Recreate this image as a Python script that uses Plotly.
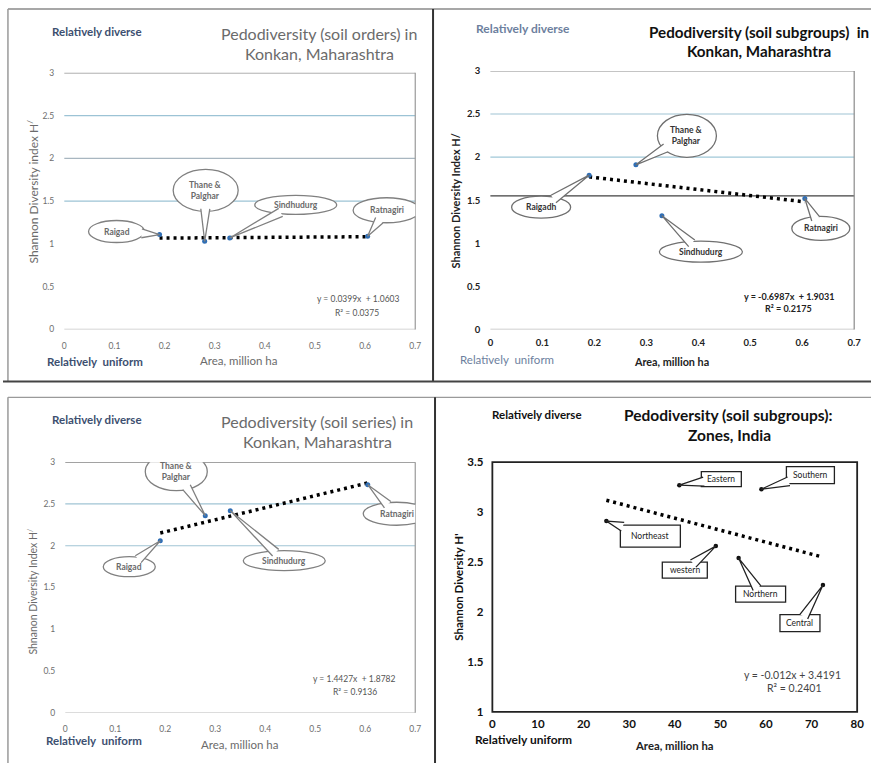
import math
import plotly.graph_objects as go

FONT = "Lato, 'Open Sans', sans-serif"
W, H = 878, 769

# ---------------- data ----------------
konkan_regions = ["Raigad", "Thane &<br>Palghar", "Sindhudurg", "Ratnagiri"]
konkan_regions_sub = ["Raigadh", "Thane &<br>Palghar", "Sindhudurg", "Ratnagiri"]
konkan_area = [0.19, 0.28, 0.33, 0.605]
h_orders = [1.11, 1.03, 1.07, 1.09]
h_subgroups = [1.79, 1.91, 1.32, 1.52]
h_series = [2.06, 2.36, 2.42, 2.73]

zones = ["Northeast", "Eastern", "western", "Northern", "Southern", "Central"]
zone_area = [25, 41, 49, 54, 59, 72.5]
zone_h = [2.91, 3.27, 2.66, 2.54, 3.23, 2.27]

# trend: slope, intercept, R2
trend_orders = (0.0399, 1.0603, "0.0375")
trend_subgroups = (-0.6987, 1.9031, "0.2175")
trend_series = (1.4427, 1.8782, "0.9136")
trend_zones = (-0.012, 3.4191, "0.2401")

konkan_xticks = [0, 0.1, 0.2, 0.3, 0.4, 0.5, 0.6, 0.7]
konkan_yticks = [0, 0.5, 1, 1.5, 2, 2.5, 3]
zone_xticks = [0, 10, 20, 30, 40, 50, 60, 70, 80]
zone_yticks = [1, 1.5, 2, 2.5, 3, 3.5]

# ---------------- layout helpers (pixels) ----------------
def px(x):
    return x / W

def py(y):
    return 1 - y / H

# callout geometry: (dx, dy-up, width, height) in pixels relative to point
callouts_p1 = [(-43, 3, 56, 22), (1, 51, 65, 42), (66, 33, 82, 19), (19, 26, 67, 25)]
callouts_p2 = [(-48, -32, 59, 22), (51, 29, 59, 43), (39, -36, 83, 21), (16, -30, 58, 24)]
callouts_p3 = [(-31, -26, 52, 20), (-29, 44, 62, 38), (54, -50, 82, 20), (29, -29, 67, 23)]
callouts_p4 = [(44, -15, 60, 22), (42, 6, 40, 15), (-31, -24, 45, 16),
               (22, -36, 50, 16), (49, 14, 48, 17), (-23, -38, 40, 17)]

fig = go.Figure()
shapes = []
anns = []


def callout(xr, yr, x, y, label, geo, kind, lcolor, fcolor, fsize, bold):
    dx, dy, w, h = geo
    a, b = w / 2, h / 2
    vx, vy = -dx, -dy
    L = math.hypot(vx, vy)
    ux, uy = vx / L, vy / L
    if kind == "ellipse":
        t = 1 / math.sqrt((ux / a) ** 2 + (uy / b) ** 2)
    else:
        t = min(a / abs(ux) if ux else 1e9, b / abs(uy) if uy else 1e9)
    bx, by = dx + ux * (t - 2.5), dy + uy * (t - 2.5)
    nx, ny = -uy, ux
    hw = 4.5
    p1 = (bx + nx * hw, by + ny * hw)
    p2 = (bx - nx * hw, by - ny * hw)
    common = dict(xref=xr, yref=yr, xsizemode="pixel", ysizemode="pixel",
                  xanchor=x, yanchor=y, layer="above")
    shapes.append(dict(type="circle" if kind == "ellipse" else "rect",
                       x0=dx - a, x1=dx + a, y0=dy - b, y1=dy + b,
                       line=dict(color=lcolor, width=1.3), fillcolor="white", **common))
    shapes.append(dict(type="path",
                       path=f"M{p1[0]:.2f},{p1[1]:.2f} L0,0 L{p2[0]:.2f},{p2[1]:.2f}",
                       line=dict(color=lcolor, width=1.3), fillcolor="white", **common))
    anns.append(dict(xref=xr, yref=yr, x=x, y=y, xshift=dx, yshift=dy,
                     text=label, showarrow=False,
                     font=dict(family=FONT, size=fsize, color=fcolor,
                               weight="bold" if bold else "normal")))


def text(x, y, s, size, color, bold=False, angle=0):
    anns.append(dict(xref="paper", yref="paper", x=px(x), y=py(y), text=s,
                     showarrow=False, xanchor="center", yanchor="middle",
                     textangle=angle,
                     font=dict(family=FONT, size=size, color=color,
                               weight="bold" if bold else "normal")))


panels = [
    dict(ax="", xd=(62, 417), yd=(67, 328), xr=(0, 0.7), yr=(0, 3),
         xv=konkan_area, yv=h_orders, labels=konkan_regions, trend=trend_orders,
         geo=callouts_p1, kind="ellipse", mcol="#2f6eb5", msize=5,
         tick=dict(size=8.5, color="#6e6e6e", bold=False),
         xticks=konkan_xticks, yticks=konkan_yticks,
         hlines=[(3, "#8c8c8c"), (2.5, "#9cc3d5"), (2, "#a8b6c0"), (1.5, "#9cc3d5"), (0, "#c8c8c8")],
         box=False, vcolor="#9a9a9a", lab=dict(col="#6a6a6a", size=8.5, bold=True),
         lcol="#808080", xstand=10, ystand=9),
    dict(ax="2", xd=(493, 861), yd=(65, 328), xr=(0, 0.7), yr=(0, 3),
         xv=konkan_area, yv=h_subgroups, labels=konkan_regions_sub, trend=trend_subgroups,
         geo=callouts_p2, kind="ellipse", mcol="#2f6eb5", msize=5,
         tick=dict(size=9.5, color="#222222", bold=True),
         xticks=konkan_xticks, yticks=konkan_yticks,
         hlines=[(3, "#8a8a8a"), (2.5, "#a0c4d4"), (2, "#a0c8d8"), (1.55, "#404040"), (0, "#c0c0c0")],
         box=False, vcolor="#8a8a8a", lab=dict(col="#333333", size=8.5, bold=True),
         lcol="#707070", xstand=6, ystand=9),
    dict(ax="3", xd=(63, 417), yd=(463, 718), xr=(0, 0.7), yr=(0, 3),
         xv=konkan_area, yv=h_series, labels=konkan_regions, trend=trend_series,
         geo=callouts_p3, kind="ellipse", mcol="#2f6eb5", msize=5,
         tick=dict(size=8.5, color="#6e6e6e", bold=False),
         xticks=konkan_xticks, yticks=konkan_yticks,
         hlines=[(3, "#5a5a5a"), (2.5, "#a0c4d4"), (2, "#a0c4d4"), (0, "#c0c0c0")],
         box=False, vcolor="#9a9a9a", lab=dict(col="#6a6a6a", size=8.5, bold=True),
         lcol="#808080", xstand=10, ystand=9),
    dict(ax="4", xd=(495, 864), yd=(463, 717), xr=(0, 80), yr=(1, 3.5),
         xv=zone_area, yv=zone_h, labels=zones, trend=trend_zones,
         geo=callouts_p4, kind="rect", mcol="#111111", msize=4.5,
         tick=dict(size=11.5, color="#111111", bold=True),
         xticks=zone_xticks, yticks=zone_yticks,
         hlines=[], box=True, vcolor="#222222", lab=dict(col="#222222", size=8.5, bold=False),
         lcol="#222222", xstand=4, ystand=8),
]

for p in panels:
    a = p["ax"]
    xname, yname = "x" + a, "y" + a
    xref = xname
    yref = yname
    xkey = "xaxis" + a
    ykey = "yaxis" + a
    tf = dict(family=FONT, size=p["tick"]["size"], color=p["tick"]["color"],
              weight="bold" if p["tick"]["bold"] else "normal")
    fig.update_layout(**{
        xkey: dict(domain=[px(p["xd"][0]), px(p["xd"][1])], range=list(p["xr"]),
                   anchor=yname, tickvals=p["xticks"], showgrid=False, zeroline=False,
                   showline=False, ticks="", tickfont=tf, ticklabelstandoff=p["xstand"],
                   fixedrange=True),
        ykey: dict(domain=[py(p["yd"][1]), py(p["yd"][0])], range=list(p["yr"]),
                   anchor=xname, tickvals=p["yticks"], showgrid=False, zeroline=False,
                   showline=False, ticks="", tickfont=tf, ticklabelstandoff=p["ystand"],
                   fixedrange=True),
    })
    for v, c in p["hlines"]:
        shapes.append(dict(type="line", xref=xref + " domain", yref=yref,
                           x0=0, x1=1, y0=v, y1=v, line=dict(color=c, width=1.2), layer="below"))
    if p["box"]:
        shapes.append(dict(type="rect", xref=xref + " domain", yref=yref + " domain",
                           x0=0, x1=1, y0=0, y1=1, line=dict(color=p["vcolor"], width=1.8),
                           layer="below"))
    else:
        shapes.append(dict(type="line", xref=xref + " domain", yref=yref + " domain",
                           x0=1, x1=1, y0=0, y1=1, line=dict(color=p["vcolor"], width=1.2),
                           layer="below"))
    m, c0, _ = p["trend"]
    tx = [min(p["xv"]), max(p["xv"])]
    fig.add_trace(go.Scatter(x=tx, y=[m * v + c0 for v in tx], mode="lines",
                             line=dict(color="black", width=3.5, dash="3px,4px"),
                             xaxis=xname, yaxis=yname, showlegend=False, hoverinfo="skip"))
    fig.add_trace(go.Scatter(x=p["xv"], y=p["yv"], mode="markers",
                             marker=dict(color=p["mcol"], size=p["msize"]),
                             xaxis=xname, yaxis=yname, showlegend=False))
    for xv, yv, lab, geo in zip(p["xv"], p["yv"], p["labels"], p["geo"]):
        callout(xref, yref, xv, yv, lab, geo, p["kind"], p["lcol"],
                p["lab"]["col"], p["lab"]["size"], p["lab"]["bold"])

# ---------------- panel texts ----------------
DB = "#3d4f70"
GR = "#6b6b6b"
# Panel 1
text(95, 25, "Relatively diverse", 11.5, DB, True)
text(320, 27, "Pedodiversity (soil orders) in", 16, GR)
text(320, 47, "Konkan, Maharashtra", 16, GR)
text(30, 188, "Shannon Diversity index H<sup>/</sup>", 12, GR, angle=-90)
text(93, 361, "Relatively  uniform", 11.5, DB, True)
text(238, 360, "Area, million ha", 11.5, GR)
text(360, 297, "y = 0.0399x  + 1.0603", 8.5, "#555555")
text(358, 311, "R² = 0.0375", 8.5, "#555555")
# Panel 2
text(526, 22, "Relatively diverse", 12, "#6d7f9e", True)
text(765, 25, "Pedodiversity (soil subgroups)  in", 15.2, "#111111", True)
text(765, 45, "Konkan, Maharashtra", 15.2, "#111111", True)
text(458, 197, "Shannon Diversity Index H/", 11, "#222222", True, angle=-90)
text(510, 359, "Relatively  uniform", 11.5, "#6d7f9e")
text(676, 361, "Area, million ha", 10.8, "#222222", True)
text(795, 294, "y = -0.6987x  + 1.9031", 9, "#222222", True)
text(795, 307, "R² = 0.2175", 9, "#222222", True)
# Panel 3
text(95, 420, "Relatively diverse", 11.5, DB, True)
text(318, 422, "Pedodiversity (soil series) in", 16, GR)
text(318, 442, "Konkan, Maharashtra", 16, GR)
text(30, 594, "Shnanon Diversity Index H<sup>/</sup>", 10.5, GR, angle=-90)
text(92, 746, "Relatively  uniform", 11.5, DB, True)
text(239, 750, "Area, million ha", 11.5, GR)
text(356, 684, "y = 1.4427x  + 1.8782", 8.5, "#555555")
text(356, 697, "R² = 0.9136", 8.5, "#555555")
# Panel 4
text(540, 415, "Relatively diverse", 11.5, "#111111", True)
text(734, 415, "Pedodiversity (soil subgroups):", 15.5, "#111111", True)
text(735, 435, "Zones, India", 15.5, "#111111", True)
text(460, 590, "Shannon Diversity H'", 11.5, "#111111", True, angle=-90)
text(526, 745, "Relatively uniform", 12, "#111111", True)
text(679, 751, "Area, million ha", 11.3, "#222222", True)
text(799, 679, "y = -0.012x + 3.4191", 10.5, "#444444")
text(800, 693, "R² = 0.2401", 10.5, "#444444")

# ---------------- panel frames (paper) ----------------
def pline(x0, y0, x1, y1, color, width):
    shapes.append(dict(type="line", xref="paper", yref="paper",
                       x0=px(x0), y0=py(y0), x1=px(x1), y1=py(y1),
                       line=dict(color=color, width=width), layer="above"))

pline(5, 2, 878, 2, "#8a8a8a", 1.5)
pline(5, 2, 5, 381, "#9a9a9a", 1.5)
pline(435, 2, 435, 381, "#333333", 2)
pline(0, 381, 878, 381, "#444444", 2)
pline(5, 397, 878, 397, "#9a9a9a", 1.2)
pline(5, 397, 5, 769, "#9a9a9a", 1.5)
pline(437, 397, 437, 769, "#333333", 2)

fig.update_layout(width=W, height=H, margin=dict(l=0, r=0, t=0, b=0),
                  paper_bgcolor="white", plot_bgcolor="white",
                  shapes=shapes, annotations=anns, showlegend=False,
                  font=dict(family=FONT))

fig.write_html("out.html")
